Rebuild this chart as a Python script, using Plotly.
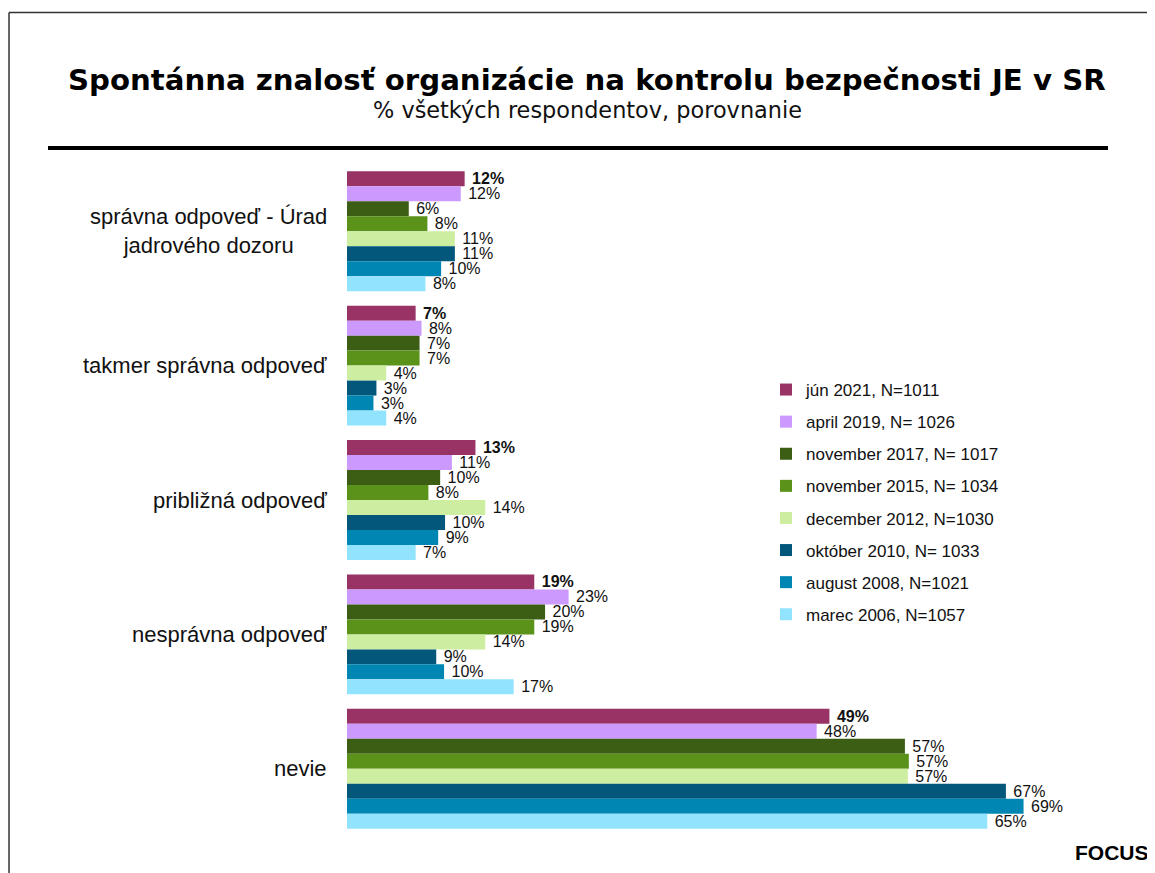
import plotly.graph_objects as go

W, H = 1147, 865
OFF = 8  # page body margin in the browser


def px_x(x):
    return (x - OFF) / W


def px_y(y):
    return 1 - (y - OFF) / H


categories = [
    "správna odpoveď - Úrad<br>jadrového dozoru",
    "takmer správna odpoveď",
    "približná odpoveď",
    "nesprávna odpoveď",
    "nevie",
]

series_names = [
    "jún 2021, N=1011",
    "april 2019, N= 1026",
    "november 2017, N= 1017",
    "november 2015, N= 1034",
    "december 2012, N=1030",
    "október 2010, N= 1033",
    "august 2008, N=1021",
    "marec 2006, N=1057",
]

jun_2021 = [12.0, 7.0, 13.1, 19.1, 49.2]
apr_2019 = [11.6, 7.6, 10.7, 22.6, 47.9]
nov_2017 = [6.3, 7.4, 9.5, 20.2, 56.9]
nov_2015 = [8.2, 7.4, 8.3, 19.1, 57.3]
dec_2012 = [11.0, 4.0, 14.1, 14.1, 57.2]
okt_2010 = [11.0, 3.0, 10.0, 9.1, 67.2]
aug_2008 = [9.6, 2.7, 9.3, 9.9, 69.0]
mar_2006 = [8.0, 4.0, 7.0, 17.0, 65.3]

labels_jun_2021 = [12, 7, 13, 19, 49]
labels_apr_2019 = [12, 8, 11, 23, 48]
labels_nov_2017 = [6, 7, 10, 20, 57]
labels_nov_2015 = [8, 7, 8, 19, 57]
labels_dec_2012 = [11, 4, 14, 14, 57]
labels_okt_2010 = [11, 3, 10, 9, 67]
labels_aug_2008 = [10, 3, 9, 10, 69]
labels_mar_2006 = [8, 4, 7, 17, 65]

values = [jun_2021, apr_2019, nov_2017, nov_2015, dec_2012, okt_2010, aug_2008, mar_2006]
labels = [labels_jun_2021, labels_apr_2019, labels_nov_2017, labels_nov_2015,
          labels_dec_2012, labels_okt_2010, labels_aug_2008, labels_mar_2006]

colors = ["#993366", "#CC99FF", "#3B5E14", "#5B921A", "#CDEEA0",
          "#02577A", "#0086B2", "#92E3FE"]

fig = go.Figure()
for i, (name, vals, labs, col) in enumerate(zip(series_names, values, labels, colors)):
    txt = [f" <b>{v}%</b>" if i == 0 else f" {v}%" for v in labs]
    fig.add_trace(go.Bar(
        y=categories, x=vals, name=name, orientation="h",
        marker=dict(color=col, line=dict(width=0)),
        text=txt, textposition="outside", constraintext="none",
        textfont=dict(family="Liberation Sans, Arial", size=16, color="#111111"),
        cliponaxis=False, legendgroup=f"g{i}",
        hoverinfo="skip",
    ))

fig.update_layout(
    width=W, height=H, autosize=False,
    margin=dict(l=0, r=0, t=0, b=0),
    paper_bgcolor="white", plot_bgcolor="white",
    barmode="group", bargap=0.108, bargroupgap=0,
    showlegend=True,
    legend=dict(
        x=px_x(766), y=px_y(372), xanchor="left", yanchor="top",
        font=dict(family="Liberation Sans, Arial", size=17, color="#111111"),
        traceorder="grouped", tracegroupgap=7,
        itemwidth=30, bgcolor="rgba(0,0,0,0)",
    ),
    xaxis=dict(
        domain=[px_x(347), px_x(1102)], range=[0, 77],
        visible=False, showgrid=False, zeroline=False,
    ),
    yaxis=dict(
        domain=[px_y(836), px_y(164)],
        autorange="reversed", showticklabels=False, showgrid=False,
        zeroline=False, showline=False, ticks="",
    ),
)

annotations = []
for c in categories:
    annotations.append(dict(
        xref="paper", yref="y", x=px_x(329), y=c, text=c, showarrow=False,
        xanchor="right", yanchor="middle", align="center",
        font=dict(family="Liberation Sans, Arial", size=22, color="#111111"),
    ))

annotations.append(dict(
    xref="paper", yref="paper", x=px_x(587), y=px_y(80),
    text="<b>Spontánna znalosť organizácie na kontrolu bezpečnosti JE v SR</b>",
    showarrow=False, xanchor="center", yanchor="middle",
    font=dict(family="DejaVu Sans, Verdana", size=29.2, color="#000000"),
))
annotations.append(dict(
    xref="paper", yref="paper", x=px_x(587), y=px_y(110),
    text="% všetkých respondentov, porovnanie",
    showarrow=False, xanchor="center", yanchor="middle",
    font=dict(family="DejaVu Sans, Verdana", size=22.4, color="#111111"),
))
annotations.append(dict(
    xref="paper", yref="paper", x=px_x(1151), y=px_y(852),
    text="<b>FOCUS</b>", showarrow=False, xanchor="right", yanchor="middle",
    font=dict(family="Liberation Sans, Arial", size=21, color="#000000"),
))
fig.update_layout(annotations=annotations)

shapes = [
    dict(type="line", xref="paper", yref="paper", x0=px_x(48), x1=px_x(1108),
         y0=px_y(148), y1=px_y(148), line=dict(color="#000000", width=4)),
    dict(type="line", xref="paper", yref="paper", x0=px_x(9), x1=1.0,
         y0=px_y(12.5), y1=px_y(12.5), line=dict(color="#333333", width=1.5)),
    dict(type="line", xref="paper", yref="paper", x0=px_x(9), x1=px_x(9),
         y0=px_y(12.5), y1=0, line=dict(color="#333333", width=1.5)),
]
fig.update_layout(shapes=shapes)

fig.write_html("out.html")
